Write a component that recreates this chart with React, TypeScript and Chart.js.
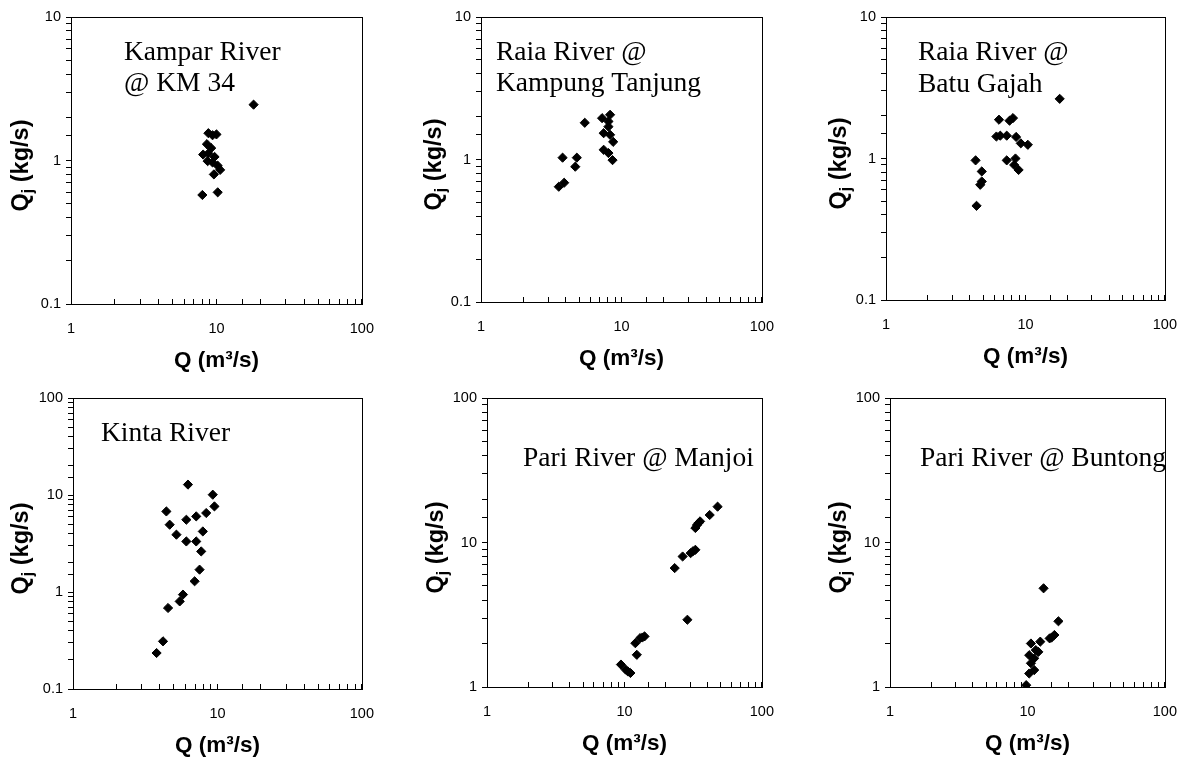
import React, { useEffect, useRef } from 'react';
import { Chart, registerables } from 'chart.js';

Chart.register(...registerables);

// ---------- data (Q in m3/s, Qj in kg/s) ----------
const kamparQ = [18.0, 8.8, 9.4, 10.0, 8.6, 9.2, 8.1, 8.8, 9.7, 8.7, 9.4, 10.2, 10.6, 9.6, 8.0, 10.2];
const kamparQj = [2.45, 1.55, 1.5, 1.52, 1.3, 1.22, 1.1, 1.12, 1.06, 0.99, 0.97, 0.92, 0.86, 0.8, 0.575, 0.6];

const raiaKTQ = [5.48, 7.28, 8.08, 8.3, 8.08, 7.47, 8.3, 8.73, 7.47, 8.08, 8.64, 3.81, 4.81, 4.69, 3.91, 3.58];
const raiaKTQj = [1.81, 1.95, 1.85, 2.06, 1.7, 1.53, 1.49, 1.33, 1.17, 1.11, 0.99, 1.03, 1.03, 0.89, 0.687, 0.644];

const raiaBGQ = [17.6, 6.46, 8.14, 7.69, 6.19, 6.6, 7.34, 8.57, 9.26, 10.4, 7.34, 8.48, 8.93, 8.3, 4.39, 4.86, 4.86, 4.74, 4.46];
const raiaBGQj = [2.64, 1.88, 1.93, 1.85, 1.43, 1.45, 1.45, 1.42, 1.28, 1.25, 0.97, 1.0, 0.83, 0.9, 0.97, 0.81, 0.688, 0.652, 0.463];

const kintaQ = [6.25, 9.28, 9.53, 4.43, 8.36, 7.13, 6.09, 4.67, 7.92, 5.2, 6.09, 7.13, 7.72, 7.52, 6.95, 5.77, 5.48, 4.55, 4.2, 3.79];
const kintaQj = [12.8, 10.07, 7.63, 6.77, 6.52, 6.02, 5.56, 4.94, 4.21, 3.9, 3.32, 3.32, 2.62, 1.7, 1.29, 0.94, 0.8, 0.684, 0.31, 0.235];

const manjoiQ = [47.6, 41.7, 35.5, 34.5, 33.7, 32.8, 32.8, 31.5, 30.3, 26.5, 23.2, 28.7, 14.0, 13.5, 13.0, 12.0, 12.3, 9.43, 10.2, 10.6, 11.05];
const manjoiQj = [17.7, 15.5, 14.0, 13.6, 13.2, 12.6, 8.9, 8.7, 8.44, 8.0, 6.65, 2.92, 2.24, 2.2, 2.18, 2.01, 1.67, 1.43, 1.32, 1.28, 1.25];

const buntongQ = [13.1, 16.8, 15.7, 14.5, 15.0, 12.4, 10.6, 11.5, 12.0, 10.3, 11.2, 10.6, 11.2, 10.3, 9.79];
const buntongQj = [4.82, 2.85, 2.29, 2.17, 2.2, 2.06, 2.0, 1.8, 1.75, 1.66, 1.58, 1.46, 1.31, 1.24, 1.03];

const xRange = [1, 100];
const yRangeTop = [0.1, 10];
const yRangeKinta = [0.1, 100];
const yRangePari = [1, 100];

const xTitle = 'Q (m³/s)';
const yTitleMain = 'Q';
const yTitleSub = 'j';
const yTitleRest = ' (kg/s)';

const labelsKampar = ['Kampar River', '@ KM 34'];
const labelsRaiaKT = ['Raia River @', 'Kampung Tanjung'];
const labelsRaiaBG = ['Raia River @', 'Batu Gajah'];
const labelsKinta = ['Kinta River'];
const labelsManjoi = ['Pari River @ Manjoi'];
const labelsBuntong = ['Pari River @ Buntong'];

// ---------- layout (page pixels) ----------
const FONT_SANS = "'Liberation Sans', Arial, Helvetica, sans-serif";
const FONT_SERIF = "'Liberation Serif', 'Times New Roman', serif";

type PanelCfg = {
  q: number[]; qj: number[]; y: number[]; labels: string[];
  cx: number; cy: number; cw: number; ch: number;
  L: number; T: number; R: number; B: number;
  yTitleX: number; labelX: number; labelBaselines: number[];
};

const panels: PanelCfg[] = [
  { q: kamparQ, qj: kamparQj, y: yRangeTop, labels: labelsKampar, cx: 0, cy: 0, cw: 395, ch: 380, L: 71, T: 17, R: 363, B: 304, yTitleX: 22, labelX: 124, labelBaselines: [60, 91] },
  { q: raiaKTQ, qj: raiaKTQj, y: yRangeTop, labels: labelsRaiaKT, cx: 400, cy: 0, cw: 395, ch: 380, L: 481, T: 17, R: 777, B: 302, yTitleX: 435, labelX: 496, labelBaselines: [60, 91] },
  { q: raiaBGQ, qj: raiaBGQj, y: yRangeTop, labels: labelsRaiaBG, cx: 800, cy: 0, cw: 398, ch: 380, L: 886, T: 17, R: 1184, B: 300, yTitleX: 840, labelX: 918, labelBaselines: [60, 91.5] },
  { q: kintaQ, qj: kintaQj, y: yRangeKinta, labels: labelsKinta, cx: 0, cy: 380, cw: 395, ch: 379, L: 73, T: 398, R: 363, B: 689, yTitleX: 22, labelX: 101, labelBaselines: [441] },
  { q: manjoiQ, qj: manjoiQj, y: yRangePari, labels: labelsManjoi, cx: 400, cy: 380, cw: 395, ch: 379, L: 487, T: 398, R: 777, B: 687, yTitleX: 437, labelX: 523, labelBaselines: [466] },
  { q: buntongQ, qj: buntongQj, y: yRangePari, labels: labelsBuntong, cx: 800, cy: 380, cw: 398, ch: 379, L: 890, T: 398, R: 1183, B: 687, yTitleX: 840, labelX: 920, labelBaselines: [466] },
];

const X_AXIS_H = 70;

function decadeLabel(value: number | string): string {
  const v = Number(value);
  const l = Math.log10(v);
  return Math.abs(l - Math.round(l)) < 1e-6 ? String(Number(v.toPrecision(6))) : '';
}

function Panel({ p }: { p: PanelCfg }) {
  const ref = useRef<HTMLCanvasElement | null>(null);

  useEffect(() => {
    const canvas = ref.current;
    if (!canvas) return;
    const points = p.q.map((x, i) => ({ x, y: p.qj[i] }));

    const textPlugin = {
      id: 'panelText',
      afterDraw(chart: any) {
        const ctx: CanvasRenderingContext2D = chart.ctx;
        const a = chart.chartArea;
        ctx.save();
        // frame
        ctx.strokeStyle = '#000';
        ctx.lineWidth = 1;
        ctx.strokeRect(Math.round(a.left) + 0.5, Math.round(a.top) + 0.5, Math.round(a.right - a.left), Math.round(a.bottom - a.top));
        // station labels
        ctx.fillStyle = '#000';
        ctx.font = `27.5px ${FONT_SERIF}`;
        ctx.textAlign = 'left';
        ctx.textBaseline = 'alphabetic';
        p.labels.forEach((t, i) => ctx.fillText(t, p.labelX - p.cx, p.labelBaselines[i] - p.cy));
        // y-axis title with subscript
        const mainFont = `bold 23.5px ${FONT_SANS}`;
        const subFont = `bold 16px ${FONT_SANS}`;
        ctx.font = mainFont;
        const w1 = ctx.measureText(yTitleMain).width;
        const w3 = ctx.measureText(yTitleRest).width;
        ctx.font = subFont;
        const w2 = ctx.measureText(yTitleSub).width;
        const total = w1 + w2 + w3;
        ctx.translate(p.yTitleX - p.cx, (a.top + a.bottom) / 2 + 5);
        ctx.rotate(-Math.PI / 2);
        ctx.textBaseline = 'middle';
        let x = -total / 2;
        ctx.font = mainFont;
        ctx.fillText(yTitleMain, x, 0);
        x += w1;
        ctx.font = subFont;
        ctx.fillText(yTitleSub, x, 6.5);
        x += w2;
        ctx.font = mainFont;
        ctx.fillText(yTitleRest, x, 0);
        ctx.restore();
      },
    };

    const tickFont = { family: FONT_SANS, size: 14.5 };

    const chart = new Chart(canvas, {
      type: 'scatter',
      data: {
        datasets: [
          {
            data: points,
            pointStyle: 'rectRot',
            pointRadius: 4.6,
            pointHoverRadius: 4.6,
            backgroundColor: '#000',
            borderColor: '#000',
            borderWidth: 1,
            showLine: false,
          },
        ],
      },
      options: {
        animation: false,
        responsive: false,
        maintainAspectRatio: false,
        events: [],
        layout: {
          padding: {
            left: 0,
            top: p.T - p.cy,
            right: p.cx + p.cw - p.R,
            bottom: p.cy + p.ch - p.B - X_AXIS_H,
          },
        },
        plugins: { legend: { display: false }, tooltip: { enabled: false }, title: { display: false } },
        scales: {
          x: {
            type: 'logarithmic',
            position: 'bottom',
            min: xRange[0],
            max: xRange[1],
            afterFit: (s: any) => { s.height = X_AXIS_H; },
            grid: { drawOnChartArea: false, drawTicks: true, tickLength: -5, color: '#000', lineWidth: 1 },
            border: { display: true, color: '#000', width: 1 },
            ticks: { autoSkip: false, maxRotation: 0, minRotation: 0, padding: 21, color: '#000', font: tickFont, callback: (v: any) => decadeLabel(v) },
            title: { display: true, text: xTitle, color: '#000', font: { family: FONT_SANS, size: 22.5, weight: 'bold' }, padding: 0 },
          },
          y: {
            type: 'logarithmic',
            position: 'left',
            min: p.y[0],
            max: p.y[1],
            afterFit: (s: any) => { s.width = p.L - p.cx; },
            grid: { drawOnChartArea: false, drawTicks: true, tickLength: 5, color: '#000', lineWidth: 1 },
            border: { display: true, color: '#000', width: 1 },
            ticks: { autoSkip: false, padding: 5, color: '#000', font: tickFont, callback: (v: any) => decadeLabel(v) },
            title: { display: false },
          },
        },
      } as any,
      plugins: [textPlugin],
    });

    return () => chart.destroy();
  }, [p]);

  return (
    <canvas
      ref={ref}
      width={p.cw}
      height={p.ch}
      style={{ position: 'absolute', left: p.cx, top: p.cy, width: p.cw, height: p.ch }}
    />
  );
}

export default function App() {
  return (
    <div style={{ position: 'absolute', left: 0, top: 0, width: 1198, height: 759, background: '#fff', overflow: 'hidden' }}>
      {panels.map((p, i) => (
        <Panel key={i} p={p} />
      ))}
    </div>
  );
}
